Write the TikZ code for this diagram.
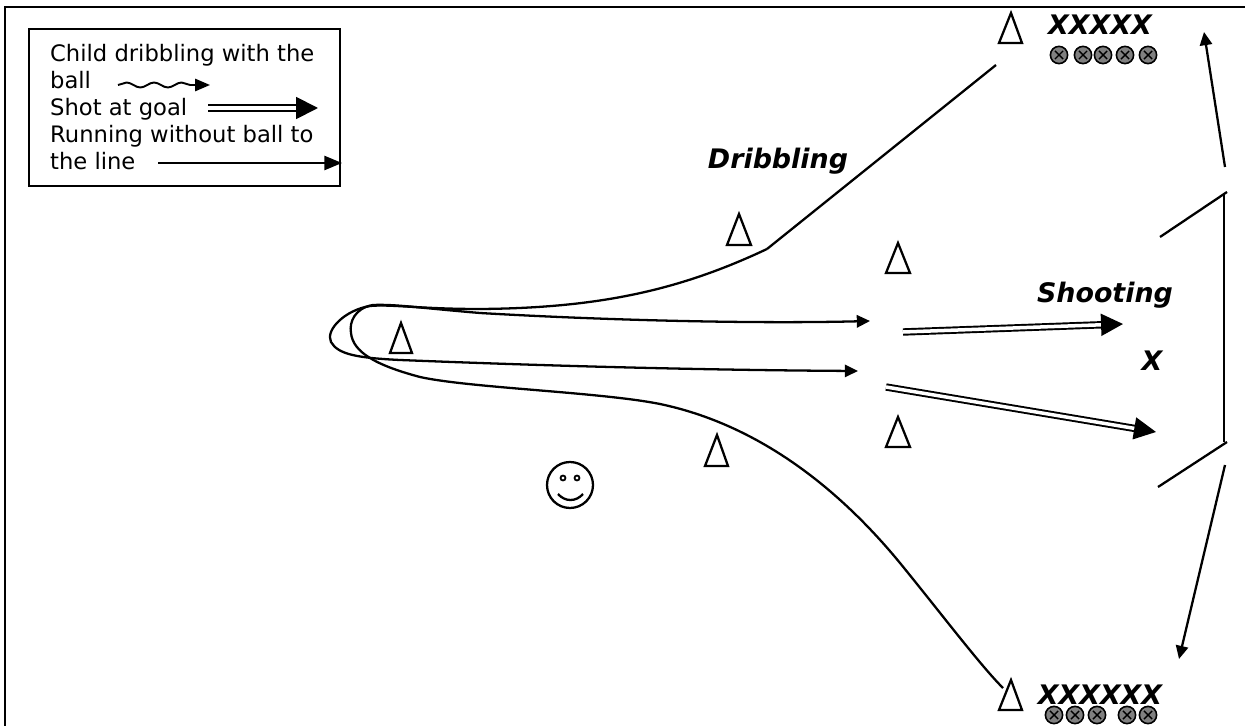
\documentclass[tikz,border=0pt]{standalone}
\usepackage{fontspec}
\setmainfont{DejaVu Sans}
\usetikzlibrary{arrows.meta,decorations.pathmorphing}

\tikzset{
  cone/.style={line width=1.3pt, line join=miter},
  legendtext/.style={anchor=base west, inner sep=0pt, font=\fontsize{12.9pt}{15.4pt}\selectfont},
  fieldlabel/.style={anchor=base, inner sep=0pt, font=\fontsize{15.3pt}{18pt}\selectfont\bfseries\itshape},
  run/.style={line width=1.3pt, -{Triangle[length=7.5pt,width=7pt]}},
  shot/.style={line width=1.1pt, double, double distance=2pt, -{Triangle[length=12.5pt,width=12.5pt]}},
  ballcircle/.style={draw, line width=0.9pt, fill=black!50, circle, minimum size=9.8pt, inner sep=0pt,
    path picture={\draw[line width=0.8pt] (path picture bounding box.south west) ++(2.6pt,2.6pt) -- ++(4.6pt,4.6pt);
                  \draw[line width=0.8pt] (path picture bounding box.north west) ++(2.6pt,-2.6pt) -- ++(4.6pt,-4.6pt);}}
}

\begin{document}
\begin{tikzpicture}[x=0.02cm, y=-0.02cm, line width=1.3pt]
                \useasboundingbox (0,0) rectangle (1245,726);
                \draw (5,726) -- (5,7) -- (1245,7);

                % legend
                \draw (29,29) rectangle (340,186);
                \node[legendtext] (leg1) at (49,62) {Child dribbling with the};
                \node[legendtext] (leg2) at (49,89) {ball};
                \node[legendtext] (leg3) at (49,116) {Shot at goal};
                \node[legendtext] (leg4) at (49,143) {Running without ball to};
                \node[legendtext] (leg5) at (49,170) {the line};
                \draw[line width=1.1pt, decorate, decoration={snake, amplitude=0.05cm, segment length=0.55cm, post length=0.3cm},
                      -{Triangle[length=8.5pt,width=7pt]}] (118,85) -- (210,85);
                \draw[shot] (208,108) -- (318,108);
                \draw[line width=1.2pt, -{Triangle[length=10pt,width=8pt]}] (158,163) -- (342,163);

                % cones
                \draw[cone] (1011,13) -- (999,43) -- (1022,43) -- cycle;
                \draw[cone] (739,214) -- (727,245) -- (751,245) -- cycle;
                \draw[cone] (898,243) -- (886,273) -- (910,273) -- cycle;
                \draw[cone] (401,323) -- (390,353) -- (412,353) -- cycle;
                \draw[cone] (898,417) -- (886,447) -- (910,447) -- cycle;
                \draw[cone] (717,435) -- (705,466) -- (728,466) -- cycle;
                \draw[cone] (1011,680) -- (999,710) -- (1022,710) -- cycle;

                % players
                \node[fieldlabel] (topline) at (1100,35) {XXXXX};
                \node[fieldlabel] (botline) at (1100,704) {XXXXXX};
                \node[ballcircle] (tb1) at (1059,55) {};
                \node[ballcircle] (tb2) at (1083,55) {};
                \node[ballcircle] (tb3) at (1103,55) {};
                \node[ballcircle] (tb4) at (1125,55) {};
                \node[ballcircle] (tb5) at (1148,55) {};
                \node[ballcircle] (bb1) at (1054,715) {};
                \node[ballcircle] (bb2) at (1075,715) {};
                \node[ballcircle] (bb3) at (1097,715) {};
                \node[ballcircle] (bb4) at (1127,715) {};
                \node[ballcircle] (bb5) at (1148,715) {};

                \node[fieldlabel] (dribbling) at (778,169) {Dribbling};
                \node[fieldlabel] (shooting) at (1105,303) {Shooting};
                \node[fieldlabel] (keeper) at (1152,371) {X};

                % dribbling paths
                \draw (996,65) -- (767,249);
                \draw[run] (767,249) .. controls (680,290) and (600,308) .. (480,309)
                      .. controls (420,309) and (390,304) .. (370,306)
                      .. controls (345,310) and (325,330) .. (331,342)
                      .. controls (338,355) and (360,358) .. (400,360)
                      .. controls (550,366) and (700,370) .. (858,371);
                \draw[{Triangle[length=7.5pt,width=7pt]}-] (870,321) .. controls (750,324) and (600,320) .. (480,313)
                      .. controls (420,308) and (395,304) .. (373,305)
                      .. controls (355,308) and (349,322) .. (351,333)
                      .. controls (353,352) and (375,365) .. (420,377)
                      .. controls (470,388) and (600,392) .. (660,404)
                      .. controls (760,425) and (840,490) .. (900,563)
                      .. controls (940,612) and (980,665) .. (1003,688);

                % shots
                \draw[shot] (903,332) -- (1123,324);
                \draw[shot] (886,387) -- (1156,432);

                % goal
                \draw (1224,193) -- (1224,442);
                \draw (1160,237) -- (1227,192);
                \draw (1158,487) -- (1227,442);

                % runs back to the lines
                \draw[run] (1225,167) -- (1204,32);
                \draw[run] (1225,465) -- (1179,659);

                % coach
                \draw (570,485) circle (23);
                \draw[line width=1pt] (563,478) circle (2.5);
                \draw[line width=1pt] (577,478) circle (2.5);
                \draw (558,494) .. controls (565,502) and (576,502) .. (583,494);
            \end{tikzpicture}
\end{document}
